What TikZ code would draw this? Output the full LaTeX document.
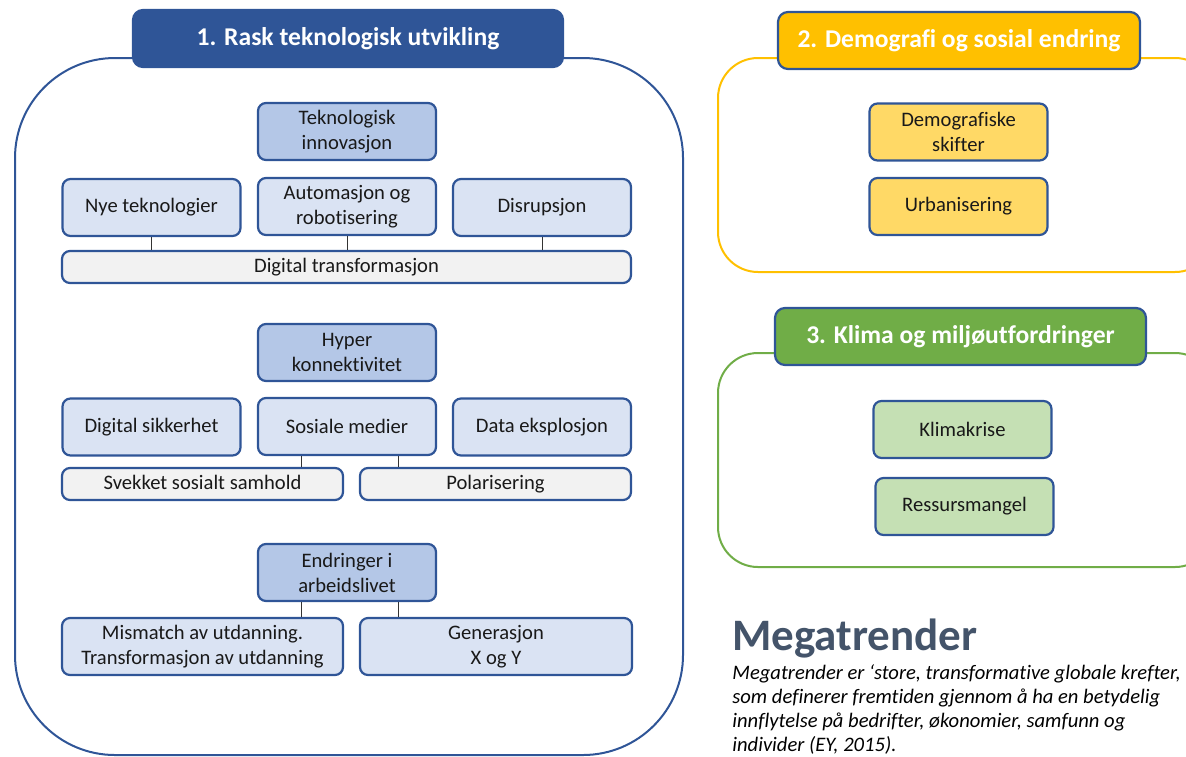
\documentclass[tikz,border=0pt]{standalone}
\usepackage{fontspec}
\setmainfont[Ligatures=NoCommon]{Carlito}
\definecolor{navy}{HTML}{2F5597}
\definecolor{bluemid}{HTML}{B4C7E7}
\definecolor{bluelight}{HTML}{DAE3F3}
\definecolor{greylight}{HTML}{F2F2F2}
\definecolor{gold}{HTML}{FFC000}
\definecolor{goldlight}{HTML}{FFD966}
\definecolor{leaf}{HTML}{70AD47}
\definecolor{leaflight}{HTML}{C5E0B4}
\definecolor{slate}{HTML}{44546A}
\tikzset{
  trend/.style={draw=navy, line width=1.1pt, rounded corners=4pt, inner sep=1pt,
    minimum width=89pt, minimum height=28.5pt, align=center, text=black!90,
    font=\fontsize{10.3}{12.5}\selectfont},
  wide/.style={trend, minimum height=16pt, text height=1.6ex, text depth=.4ex},
  heading/.style={draw=navy, line width=1.1pt, rounded corners=5pt, minimum height=28.5pt,
    text=white, font=\bfseries\fontsize{12.8}{14}\selectfont},
  frame/.style={line width=1pt}
}
\begin{document}
\begin{tikzpicture}[x=0.5pt,y=-0.5pt]
  \useasboundingbox (0,0) rectangle (1186,756);
  % rammer
  \draw[frame, navy, rounded corners=50pt] (15,58) rectangle (683,755);
  \draw[frame, gold, rounded corners=20pt] (718,58) rectangle (1215,272);
  \draw[frame, leaf, rounded corners=20pt] (718,353) rectangle (1215,567);
  % 1. Rask teknologisk utvikling
  \draw
    (348,38.5) node[heading, fill=navy, minimum width=215pt] (tek){1. Rask teknologisk utvikling}
    (347,131.5) node[trend, fill=bluemid] (innov){Teknologisk\\innovasjon}
    (151.5,207.5) node[trend, fill=bluelight] (nye){Nye teknologier}
    (347,206.5) node[trend, fill=bluelight] (auto){Automasjon og\\robotisering}
    (542,207.5) node[trend, fill=bluelight] (disr){Disrupsjon}
    (346.5,267) node[wide, fill=greylight, minimum width=284.5pt] (digtr){Digital transformasjon}
    (347,352.5) node[trend, fill=bluemid] (hyper){Hyper\\konnektivitet}
    (151.5,427) node[trend, fill=bluelight] (sikk){Digital sikkerhet}
    (347,426.5) node[trend, fill=bluelight] (sosial){Sosiale medier}
    (542,427) node[trend, fill=bluelight] (data){Data eksplosjon}
    (202.5,484) node[wide, fill=greylight, minimum width=140.5pt] (svek){Svekket sosialt samhold}
    (495.5,484) node[wide, fill=greylight, minimum width=135.5pt] (polar){Polarisering}
    (347,572.5) node[trend, fill=bluemid] (endr){Endringer i\\arbeidslivet}
    (202.5,646.5) node[trend, fill=bluelight, minimum width=140.5pt] (mism){Mismatch av utdanning.\\Transformasjon av utdanning}
    (496,646.5) node[trend, fill=bluelight, minimum width=136pt] (gen){Generasjon\\X og Y};
  % 2. Demografi og sosial endring
  \draw
    (959,40.5) node[heading, fill=gold, minimum width=181pt] (demo){2. Demografi og sosial endring}
    (958.5,132) node[trend, fill=goldlight] (skift){Demografiske\\skifter}
    (958.5,206.5) node[trend, fill=goldlight] (urban){Urbanisering};
  % 3. Klima og miljøutfordringer
  \draw
    (960.5,336.5) node[heading, fill=leaf, minimum width=185.5pt] (klima){3. Klima og miljøutfordringer}
    (962.5,429.5) node[trend, fill=leaflight] (krise){Klimakrise}
    (964.5,506.5) node[trend, fill=leaflight] (ress){Ressursmangel};
  \begin{scope}[black!80, line width=0.5pt]
    \draw (nye.south) -- (nye.south |- digtr.north);
    \draw (auto.south) -- (auto.south |- digtr.north);
    \draw (disr.south) -- (disr.south |- digtr.north);
    \draw ([xshift=-23pt]sosial.south) -- ([xshift=-23pt]sosial.south |- svek.north);
    \draw ([xshift=25.5pt]sosial.south) -- ([xshift=25.5pt]sosial.south |- polar.north);
    \draw ([xshift=-23pt]endr.south) -- ([xshift=-23pt]endr.south |- mism.north);
    \draw ([xshift=25.5pt]endr.south) -- ([xshift=25.5pt]endr.south |- gen.north);
  \end{scope}
  % tekst
  \node[anchor=base west, inner sep=0pt, text=slate, font=\bfseries\fontsize{22.5}{24}\selectfont]
    (mega) at (732,650) {Megatrender};
  \node[anchor=north west, inner sep=0pt, align=left, font=\itshape\fontsize{10.3}{12}\selectfont]
    (def) at (732,664) {Megatrender er ‘store, transformative globale krefter,\\
    som definerer fremtiden gjennom å ha en betydelig\\
    innflytelse på bedrifter, økonomier, samfunn og\\
    individer (EY, 2015).};
\end{tikzpicture}
\end{document}
